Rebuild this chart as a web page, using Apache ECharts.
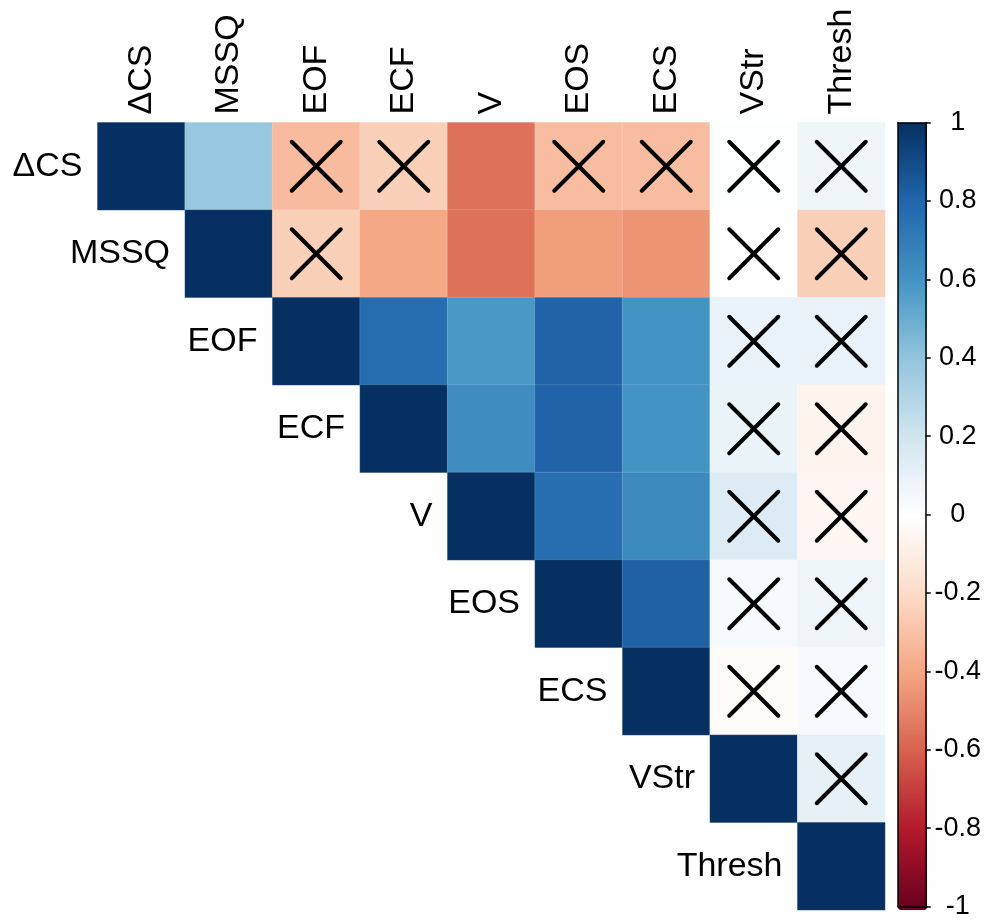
<!DOCTYPE html>
<html>
<head>
<meta charset="utf-8">
<script src="https://cdn.jsdelivr.net/npm/echarts@6/dist/echarts.min.js"></script>
<style>
  html, body { margin: 0; padding: 0; background: #ffffff; }
  #chart { width: 984px; height: 920px; }
</style>
</head>
<body>
<div id="chart"></div>
<script>
// Variable names (columns and rows of the correlation matrix)
const variables = ['ΔCS', 'MSSQ', 'EOF', 'ECF', 'V', 'EOS', 'ECS', 'VStr', 'Thresh'];

// Upper-triangle correlations, one array per row starting at the diagonal
const rowDeltaCS = [1, 0.38, -0.32, -0.24, -0.55, -0.31, -0.31, 0.01, 0.07];
const rowMSSQ    = [1, -0.24, -0.39, -0.55, -0.42, -0.45, 0.0, -0.24];
const rowEOF     = [1, 0.77, 0.58, 0.81, 0.6, 0.1, 0.1];
const rowECF     = [1, 0.63, 0.81, 0.6, 0.09, -0.06];
const rowV       = [1, 0.76, 0.64, 0.15, -0.05];
const rowEOS     = [1, 0.82, 0.04, 0.08];
const rowECS     = [1, -0.02, 0.04];
const rowVStr    = [1, 0.11];
const rowThresh  = [1];

// Non-significant cells (crossed out), 1 = crossed, same layout as above
const nsDeltaCS = [0, 0, 1, 1, 0, 1, 1, 1, 1];
const nsMSSQ    = [0, 1, 0, 0, 0, 0, 1, 1];
const nsEOF     = [0, 0, 0, 0, 0, 1, 1];
const nsECF     = [0, 0, 0, 0, 1, 1];
const nsV       = [0, 0, 0, 1, 1];
const nsEOS     = [0, 0, 1, 1];
const nsECS     = [0, 1, 1];
const nsVStr    = [0, 1];
const nsThresh  = [0];

// Colour-bar tick range
const barMin = -1, barMax = 1, barStep = 0.2;

// RdBu diverging palette, from -1 to 1
const palette = ['#67001F', '#B2182B', '#D6604D', '#F4A582', '#FDDBC7', '#FFFFFF',
                 '#D1E5F0', '#92C5DE', '#4393C3', '#2166AC', '#053061'];

const rows = [rowDeltaCS, rowMSSQ, rowEOF, rowECF, rowV, rowEOS, rowECS, rowVStr, rowThresh];
const nsRows = [nsDeltaCS, nsMSSQ, nsEOF, nsECF, nsV, nsEOS, nsECS, nsVStr, nsThresh];

const cells = [];
const crosses = [];
rows.forEach((r, i) => {
  r.forEach((v, k) => {
    const j = i + k;
    cells.push([j, i, v]);
    if (nsRows[i][k]) crosses.push([j, i]);
  });
});
const diagLabels = variables.map((name, i) => [i, i, name]);

const FONT = "'Liberation Sans', Arial, Helvetica, sans-serif";
const LABEL_SIZE = 34;

const frameLine = { show: true, onZero: false, lineStyle: { color: '#000', width: 1.5 } };

const chart = echarts.init(document.getElementById('chart'), null, { renderer: 'canvas' });

chart.setOption({
  animation: false,
  backgroundColor: '#ffffff',
  grid: [
    { left: 97.5, top: 122.5, width: 787.5, height: 787.5 },
    { left: 898, top: 122.5, width: 29, height: 787.5 }
  ],
  xAxis: [
    {
      type: 'category', gridIndex: 0, data: variables, position: 'top',
      axisLine: { show: false }, axisTick: { show: false }, splitLine: { show: false },
      axisLabel: { rotate: -90, margin: 8, fontSize: LABEL_SIZE, color: '#000', fontFamily: FONT, interval: 0 }
    },
    {
      type: 'value', gridIndex: 1, min: 0, max: 1, position: 'bottom', z: 10,
      axisLine: frameLine, axisTick: { show: false }, axisLabel: { show: false }, splitLine: { show: false }
    },
    {
      type: 'value', gridIndex: 1, min: 0, max: 1, position: 'top', z: 10,
      axisLine: frameLine, axisTick: { show: false }, axisLabel: { show: false }, splitLine: { show: false }
    }
  ],
  yAxis: [
    {
      type: 'category', gridIndex: 0, data: variables, inverse: true,
      axisLine: { show: false }, axisTick: { show: false }, axisLabel: { show: false },
      splitLine: { show: false }
    },
    {
      type: 'value', gridIndex: 1, min: barMin, max: barMax, interval: barStep, position: 'right', z: 10,
      axisLine: frameLine,
      axisTick: { show: true, length: 5, lineStyle: { color: '#000', width: 1.5 } },
      axisLabel: {
        margin: 32, align: 'center', fontSize: 27, color: '#000', fontFamily: FONT,
        formatter: v => String(Math.round(v * 10) / 10)
      },
      splitLine: { show: false }
    },
    {
      type: 'value', gridIndex: 1, min: barMin, max: barMax, position: 'left', z: 10,
      axisLine: frameLine, axisTick: { show: false }, axisLabel: { show: false }, splitLine: { show: false }
    }
  ],
  visualMap: {
    type: 'continuous', min: barMin, max: barMax, seriesIndex: 0,
    calculable: false, hoverLink: false, text: null, padding: 0,
    orient: 'vertical', left: 898, top: 122.5, itemWidth: 29, itemHeight: 787.5,
    inRange: { color: palette }
  },
  series: [
    {
      type: 'heatmap', xAxisIndex: 0, yAxisIndex: 0, data: cells,
      itemStyle: { borderColor: 'rgba(255,255,255,0.25)', borderWidth: 0.5 },
      emphasis: { disabled: true }
    },
    {
      type: 'custom', xAxisIndex: 0, yAxisIndex: 0, data: crosses, z: 5,
      encode: { x: 0, y: 1 },
      renderItem: (params, api) => {
        const c = api.coord([api.value(0), api.value(1)]);
        const s = api.size([1, 1]);
        const h = s[0] * 0.28;
        const style = { stroke: '#000', lineWidth: 4, lineCap: 'round' };
        return {
          type: 'group',
          children: [
            { type: 'line', shape: { x1: c[0] - h, y1: c[1] - h, x2: c[0] + h, y2: c[1] + h }, style },
            { type: 'line', shape: { x1: c[0] - h, y1: c[1] + h, x2: c[0] + h, y2: c[1] - h }, style }
          ]
        };
      }
    },
    {
      type: 'custom', xAxisIndex: 0, yAxisIndex: 0, data: diagLabels, z: 5,
      encode: { x: 0, y: 1 }, clip: false,
      renderItem: (params, api) => {
        const c = api.coord([api.value(0), api.value(1)]);
        const s = api.size([1, 1]);
        return {
          type: 'text',
          style: {
            x: c[0] - s[0] / 2 - 15, y: c[1],
            text: variables[params.dataIndex],
            align: 'right', verticalAlign: 'middle',
            fontSize: LABEL_SIZE, fontFamily: FONT, fill: '#000'
          }
        };
      }
    }
  ]
});
</script>
</body>
</html>
